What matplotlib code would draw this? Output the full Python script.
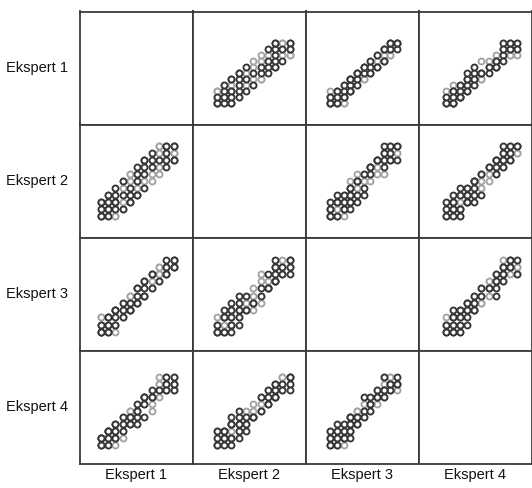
import matplotlib
matplotlib.use("Agg")
import matplotlib.pyplot as plt

plt.rcParams['font.family'] = ['Liberation Sans', 'DejaVu Sans']

labels = ["Ekspert 1", "Ekspert 2", "Ekspert 3", "Ekspert 4"]

# scores given by each expert to the same set of items
ekspert1 = [1, 1, 2, 1, 2, 2, 3, 1, 3, 2, 3, 4, 3, 4, 2, 4, 5, 4, 3, 5, 5, 6, 4, 5, 6,
            6, 7, 6, 7, 5, 7, 8, 8, 7, 9, 8, 9, 9, 10, 10, 11, 10, 11, 9, 11, 10, 11, 3, 2, 1,
            1, 3, 2, 4, 3, 5, 4, 6, 5, 7, 6, 8, 7, 9, 8, 10, 9, 11, 1, 2, 10, 11]
ekspert2 = [1, 2, 1, 1, 2, 3, 2, 3, 1, 2, 3, 3, 4, 4, 4, 2, 4, 5, 3, 5, 3, 5, 6, 6, 6,
            4, 6, 7, 7, 7, 8, 7, 8, 9, 8, 9, 9, 10, 9, 10, 10, 11, 11, 11, 9, 10, 11, 2, 3, 2,
            3, 1, 4, 2, 5, 3, 6, 4, 7, 5, 8, 6, 9, 7, 10, 8, 11, 9, 1, 1, 11, 10]
ekspert3 = [1, 1, 2, 2, 1, 2, 3, 2, 1, 3, 2, 3, 4, 3, 3, 4, 4, 5, 4, 4, 5, 5, 5, 6, 5,
            6, 6, 7, 6, 6, 7, 8, 7, 8, 8, 9, 8, 9, 10, 10, 10, 11, 11, 10, 11, 9, 10, 2, 3, 3,
            1, 2, 2, 3, 4, 4, 4, 5, 5, 6, 7, 7, 8, 9, 9, 9, 10, 10, 3, 1, 9, 11]
ekspert4 = [1, 2, 1, 2, 1, 2, 2, 1, 3, 3, 4, 3, 2, 4, 3, 3, 5, 4, 4, 4, 4, 6, 5, 5, 5,
            6, 7, 6, 8, 6, 7, 7, 8, 8, 9, 8, 9, 10, 9, 10, 11, 10, 11, 10, 10, 11, 9, 3, 2, 2,
            2, 1, 3, 2, 3, 5, 5, 4, 6, 5, 7, 6, 8, 8, 9, 9, 11, 10, 1, 3, 11, 9]
grupa = [0, 0, 1, 0, 0, 1, 0, 0, 1, 0, 0, 1, 0, 0, 1, 0, 0, 1, 0, 0, 0, 1, 0, 1, 0,
         0, 1, 0, 0, 1, 0, 1, 0, 0, 1, 0, 0, 1, 0, 0, 1, 0, 0, 1, 0, 1, 0, 1, 0, 1,
         0, 1, 0, 1, 0, 0, 1, 0, 1, 0, 0, 1, 0, 1, 0, 0, 1, 0, 1, 0, 0, 1]

scores = [ekspert1, ekspert2, ekspert3, ekspert4]
# axis range used for each expert's variable
limits = [(-1.9, 13.6), (-2.3, 13.2), (-2.7, 14.3), (-2.8, 13.1)]
ylimits = [(-2.7, 16.4), (-2.0, 14.0), (-1.6, 14.05), (-1.8, 14.9)]
colors = ["#353535", "#a3a3a3"]

fig = plt.figure(figsize=(5.32, 4.88), dpi=100)
gs = fig.add_gridspec(4, 4, left=79.5 / 532, right=1.0, top=1 - 11.5 / 488,
                      bottom=1 - 463.5 / 488, wspace=0, hspace=0)

for i in range(4):
    for j in range(4):
        ax = fig.add_subplot(gs[i, j])
        ax.set_xlim(*limits[j])
        ax.set_ylim(*ylimits[i])
        ax.set_xticks([])
        ax.set_yticks([])
        for sp in ax.spines.values():
            sp.set_linewidth(1.3)
            sp.set_color("#3a3a3a")
        if i != j:
            for g in (1, 0):
                xs = [scores[j][k] for k in range(len(grupa)) if grupa[k] == g]
                ys = [scores[i][k] for k in range(len(grupa)) if grupa[k] == g]
                ax.plot(xs, ys, "o", mfc="white", mec=colors[g], ms=4.3, mew=1.35)
        if j == 0:
            ax.set_ylabel(labels[i], rotation=0, fontsize=10.5, ha="right",
                          va="center", labelpad=8, color="#111111")
        if i == 3:
            ax.set_xlabel(labels[j], fontsize=10.5, labelpad=3, color="#111111")

fig.savefig("out.png", dpi=100)
